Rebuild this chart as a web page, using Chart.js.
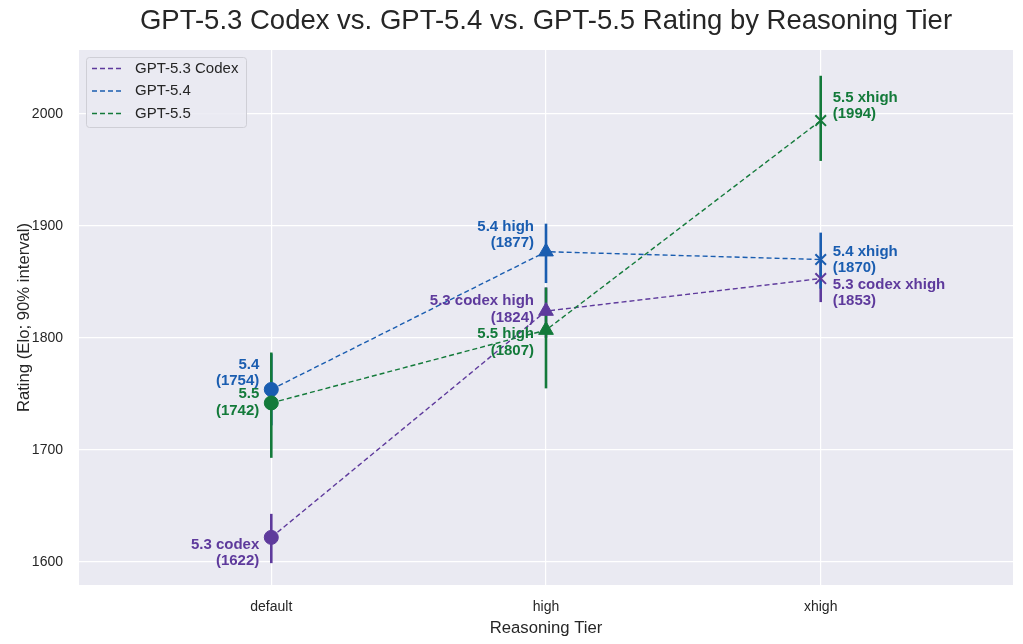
<!DOCTYPE html>
<html><head><meta charset="utf-8">
<script src="https://cdn.jsdelivr.net/npm/chart.js@4/dist/chart.umd.min.js"></script>
<style>html,body{margin:0;padding:0;background:#fff}#wrap{width:1023px;height:644px}</style>
</head><body><div id="wrap"><canvas id="c" width="1023" height="644"></canvas></div>
<script>
const tiers = ['default', 'high', 'xhigh'];
const seriesNames = ['GPT-5.3 Codex', 'GPT-5.4', 'GPT-5.5'];
const codex53 = [1622, 1824, 1853];
const gpt54 = [1754, 1877, 1870];
const gpt55 = [1742, 1807, 1994];
const codex53Lo = [1599, 1800, 1832];
const codex53Hi = [1643, 1845, 1872];
const gpt54Lo = [1722, 1849, 1844];
const gpt54Hi = [1786, 1902, 1894];
const gpt55Lo = [1693, 1755, 1958];
const gpt55Hi = [1787, 1845, 2034];
const codex53Labels = ['5.3 codex', '5.3 codex high', '5.3 codex xhigh'];
const gpt54Labels = ['5.4', '5.4 high', '5.4 xhigh'];
const gpt55Labels = ['5.5', '5.5 high', '5.5 xhigh'];
const yTicks = [1600, 1700, 1800, 1900, 2000];
const titleText = 'GPT-5.3 Codex vs. GPT-5.4 vs. GPT-5.5 Rating by Reasoning Tier';

const colors = ['#5e3a9c', '#1a5db0', '#137a3a'];
const markerStyles = ['circle', 'triangle', 'crossRot'];
const markerRadii = [7, 8.5, 7.5];
// label placement offsets (px) relative to the point: [dx, dy of first line, align]
const labelOffsets = [
  [[-12, 7, 'right'], [-12, -10, 'right'], [12, 6, 'left']],
  [[-12, -25, 'right'], [-12, -25, 'right'], [12, -8, 'left']],
  [[-12, -9, 'right'], [-12, 4, 'right'], [12, -23, 'left']]
];

const values = [codex53, gpt54, gpt55];
const los = [codex53Lo, gpt54Lo, gpt55Lo];
const his = [codex53Hi, gpt54Hi, gpt55Hi];
const labels = [codex53Labels, gpt54Labels, gpt55Labels];

const FONT = "'Liberation Sans', Arial, sans-serif";

const datasets = values.map((v, i) => ({
  label: seriesNames[i],
  data: v.map((y, j) => ({x: j, y: y})),
  borderColor: colors[i],
  backgroundColor: colors[i],
  borderWidth: 1.4,
  borderDash: [5, 3],
  pointStyle: markerStyles,
  pointRadius: markerRadii,
  pointBorderWidth: [1, 1, 2],
  pointBorderColor: colors[i],
  pointBackgroundColor: colors[i],
  order: 3 - i,
  fill: false,
  tension: 0
}));

const bgPlugin = {
  id: 'bg',
  beforeDraw(chart) {
    const {ctx, chartArea: a} = chart;
    ctx.save();
    ctx.fillStyle = '#eaeaf2';
    ctx.fillRect(a.left, a.top, a.right - a.left, a.bottom - a.top);
    ctx.fillStyle = '#262626';
    ctx.font = "27.5px " + FONT;
    ctx.textAlign = 'center';
    ctx.textBaseline = 'middle';
    ctx.fillText(titleText, (a.left + a.right) / 2, 21);
    ctx.restore();
  }
};

const errPlugin = {
  id: 'err',
  beforeDatasetsDraw(chart) {
    const {ctx} = chart;
    const xs = chart.scales.x, ys = chart.scales.y;
    ctx.save();
    ctx.lineWidth = 2.6;
    for (let i = 0; i < values.length; i++) {
      ctx.strokeStyle = colors[i];
      for (let j = 0; j < tiers.length; j++) {
        const px = xs.getPixelForValue(j);
        ctx.beginPath();
        ctx.moveTo(px, ys.getPixelForValue(los[i][j]));
        ctx.lineTo(px, ys.getPixelForValue(his[i][j]));
        ctx.stroke();
      }
    }
    ctx.restore();
  },
  afterDatasetsDraw(chart) {
    const {ctx} = chart;
    const xs = chart.scales.x, ys = chart.scales.y;
    ctx.save();
    ctx.font = "bold 15px " + FONT;
    ctx.textBaseline = 'middle';
    for (let i = 0; i < values.length; i++) {
      ctx.fillStyle = colors[i];
      for (let j = 0; j < tiers.length; j++) {
        const px = xs.getPixelForValue(j), py = ys.getPixelForValue(values[i][j]);
        const [dx, dy, al] = labelOffsets[i][j];
        ctx.textAlign = al;
        ctx.fillText(labels[i][j], px + dx, py + dy);
        ctx.fillText('(' + values[i][j] + ')', px + dx, py + dy + 16.5);
      }
    }
    // legend
    const lx = 86, ly = 57, lw = 160, lh = 70;
    ctx.fillStyle = 'rgba(234,234,242,0.85)';
    ctx.strokeStyle = '#cfcfd6';
    ctx.lineWidth = 1;
    ctx.beginPath();
    if (ctx.roundRect) ctx.roundRect(lx + 0.5, ly + 0.5, lw, lh, 3); else ctx.rect(lx + 0.5, ly + 0.5, lw, lh);
    ctx.fill(); ctx.stroke();
    ctx.font = "15px " + FONT;
    ctx.textAlign = 'left';
    for (let i = 0; i < seriesNames.length; i++) {
      const y = 68.5 + i * 22.5;
      ctx.strokeStyle = colors[i];
      ctx.lineWidth = 1.4;
      ctx.setLineDash([5, 3]);
      ctx.beginPath(); ctx.moveTo(92, y); ctx.lineTo(122, y); ctx.stroke();
      ctx.setLineDash([]);
      ctx.fillStyle = '#262626';
      ctx.fillText(seriesNames[i], 135, y);
    }
    ctx.restore();
  }
};

new Chart(document.getElementById('c'), {
  type: 'line',
  data: {datasets},
  plugins: [bgPlugin, errPlugin],
  options: {
    responsive: false,
    animation: false,
    layout: {padding: {left: 0, right: 10, top: 50, bottom: 0}},
    plugins: {
      legend: {display: false},
      tooltip: {enabled: false},
      title: {display: false}
    },
    scales: {
      x: {
        type: 'linear', min: -0.7, max: 2.7,
        afterBuildTicks: s => { s.ticks = tiers.map((t, j) => ({value: j})); },
        afterFit: s => { s.height = 59; },
        ticks: {callback: v => tiers[v], color: '#262626', font: {family: FONT, size: 14}, padding: 14},
        grid: {color: '#ffffff', lineWidth: 1.2, drawTicks: false},
        border: {display: false},
        title: {display: true, text: 'Reasoning Tier', color: '#262626', font: {family: FONT, size: 16.7}, padding: {top: 2, bottom: 6}}
      },
      y: {
        min: 1579.5, max: 2057,
        afterBuildTicks: s => { s.ticks = yTicks.map(v => ({value: v})); },
        afterFit: s => { s.width = 79; },
        ticks: {callback: v => String(v), color: '#262626', font: {family: FONT, size: 14}, padding: 16},
        grid: {color: '#ffffff', lineWidth: 1.2, drawTicks: false},
        border: {display: false},
        title: {display: true, text: 'Rating (Elo; 90% interval)', color: '#262626', font: {family: FONT, size: 16.7}, padding: {top: 14, bottom: 0}}
      }
    }
  }
});
</script></body></html>
